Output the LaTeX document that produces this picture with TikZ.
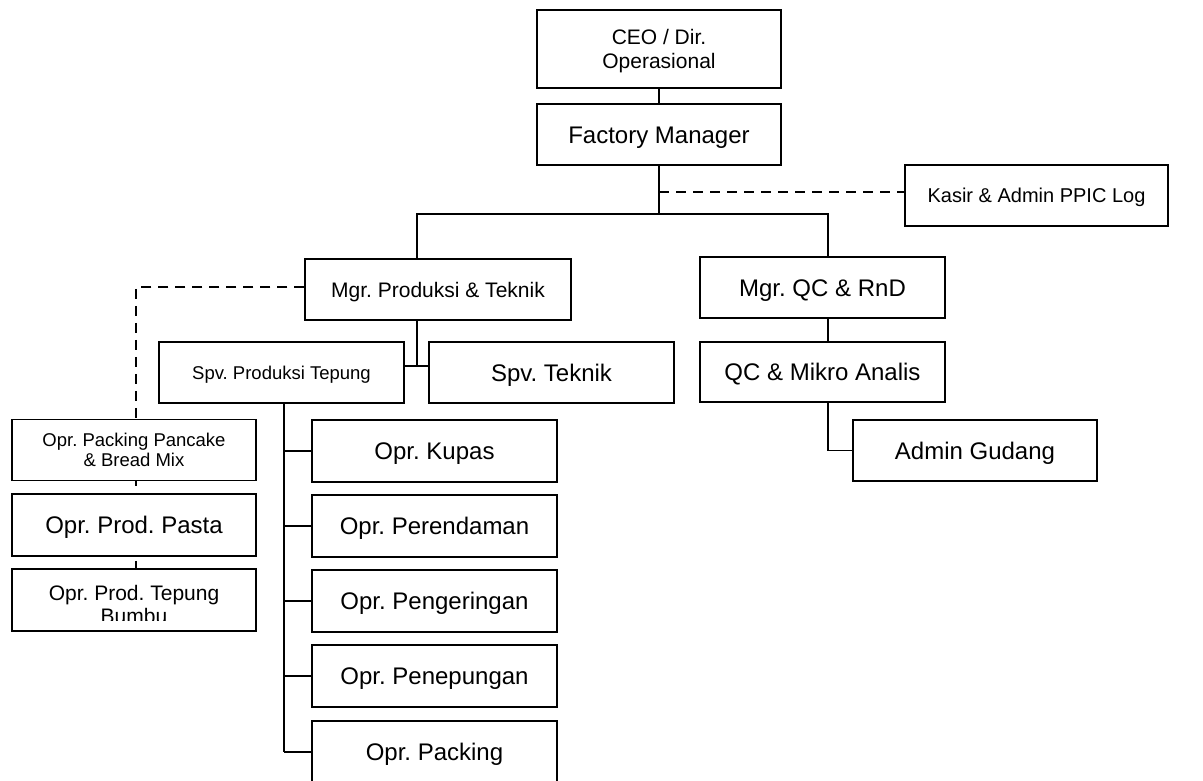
\documentclass[tikz,border=0pt]{standalone}
\usepackage{fontspec}
\setmainfont{Liberation Sans}
\usetikzlibrary{backgrounds}
\newcommand{\fsA}{\fontsize{24}{27}\selectfont\frenchspacing}
\newcommand{\fsB}{\fontsize{21}{24}\selectfont\frenchspacing}
\newcommand{\fsC}{\fontsize{20}{23}\selectfont\frenchspacing}
\newcommand{\fsD}{\fontsize{18.5}{20}\selectfont\frenchspacing}
\begin{document}
\begin{tikzpicture}[x=1pt,y=1pt,
  box/.style={draw=black, line width=1.5pt, fill=white, inner sep=0pt, align=center, text=black, text depth=0pt},
  tA/.style={font=\fsA, text height=17.2pt},
  tB/.style={font=\fsB, text height=15pt},
  tC/.style={font=\fsC, text height=14.3pt},
  tD/.style={font=\fsD, text height=13.2pt},
  conn/.style={draw=black, line width=1.5pt},
  dconn/.style={draw=black, line width=1.5pt, dash pattern=on 10pt off 7pt}]
\useasboundingbox (0,0) rectangle (1203,-780);
\clip (0,0) rectangle (1203,-780);
% boxes
\node[box, font=\fsB, minimum width=244, minimum height=78] (ceo) at (659,-49) {CEO / Dir.\\Operasional};
\node[box, tA, minimum width=244, minimum height=61] (fm) at (659,-134.5) {Factory Manager};
\node[box, tC, minimum width=263, minimum height=61] (kas) at (1036.5,-195.5) {Kasir \& Admin PPIC Log};
\node[box, tB, minimum width=266, minimum height=61] (mgrp) at (438,-289.5) {Mgr. Produksi \& Teknik};
\node[box, tA, minimum width=245, minimum height=61] (mgrq) at (822.5,-287.5) {Mgr. QC \& RnD};
\node[box, tD, minimum width=245, minimum height=61] (spvp) at (281.5,-372.5) {Spv. Produksi Tepung};
\node[box, tA, minimum width=245, minimum height=61] (spvt) at (551.5,-372.5) {Spv. Teknik};
\node[box, tA, minimum width=245, minimum height=60] (qcm) at (822.5,-372) {QC \& Mikro Analis};
\node[box, tA, minimum width=244, minimum height=61] (adm) at (975,-450.5) {Admin Gudang};
\node[box, font=\fsD, minimum width=244, minimum height=61] (lb1) at (134,-450) {Opr. Packing Pancake\\\& Bread Mix};
\node[box, tA, minimum width=244, minimum height=62] (lb2) at (134,-525) {Opr. Prod. Pasta};
\node[box, minimum width=244, minimum height=62] (lb3) at (134,-600) {};
\begin{scope}
  \clip (12,-569) rectangle (256,-620);
  \node[inner sep=0pt, anchor=north, align=center, font=\fontsize{21}{23}\selectfont\frenchspacing] (lb3t) at (134,-585) {Opr. Prod. Tepung\\Bumbu};
\end{scope}
\node[box, tA, minimum width=245, minimum height=62] (o1) at (434.5,-451) {Opr. Kupas};
\node[box, tA, minimum width=245, minimum height=62] (o2) at (434.5,-526) {Opr. Perendaman};
\node[box, tA, minimum width=245, minimum height=62] (o3) at (434.5,-601) {Opr. Pengeringan};
\node[box, tA, minimum width=245, minimum height=62] (o4) at (434.5,-676) {Opr. Penepungan};
\node[box, tA, minimum width=245, minimum height=62] (o5) at (434.5,-752) {Opr. Packing};
% junction coordinates
\coordinate (pL) at (417,-214);
\coordinate (pR) at (828,-214);
\coordinate (pJ) at (417,-366);
\coordinate (sp) at (284,-403);
\coordinate (dk) at (659,-192);
\coordinate (dc) at (136,-287);
\coordinate (dend) at (136,-600);
\begin{pgfonlayer}{background}
\fill[white] (0,0) rectangle (1203,-780);
\draw[conn] (ceo.south) -- (fm.north);
\draw[conn] (fm.south) -- (fm.south |- pL);
\draw[dconn] (dk) -- (kas.west |- dk);
\draw[conn] (mgrp.north -| pL) -- (pL) -- (pR) -- (mgrq.north -| pR);
\draw[conn] (mgrq.south -| pR) -- (qcm.north -| pR);
\draw[conn] (qcm.south -| pR) |- (adm.west);
\draw[conn] (mgrp.south -| pJ) -- (pJ);
\draw[conn] (spvp.east |- pJ) -- (spvt.west |- pJ);
\draw[conn] (sp) -- (sp |- o5.west);
\foreach \o in {o1,o2,o3,o4,o5} \draw[conn] (sp |- \o.west) -- (\o.west);
\draw[dconn] (mgrp.west |- dc) -- (dc) -- (dend);
\end{pgfonlayer}
\end{tikzpicture}
\end{document}
